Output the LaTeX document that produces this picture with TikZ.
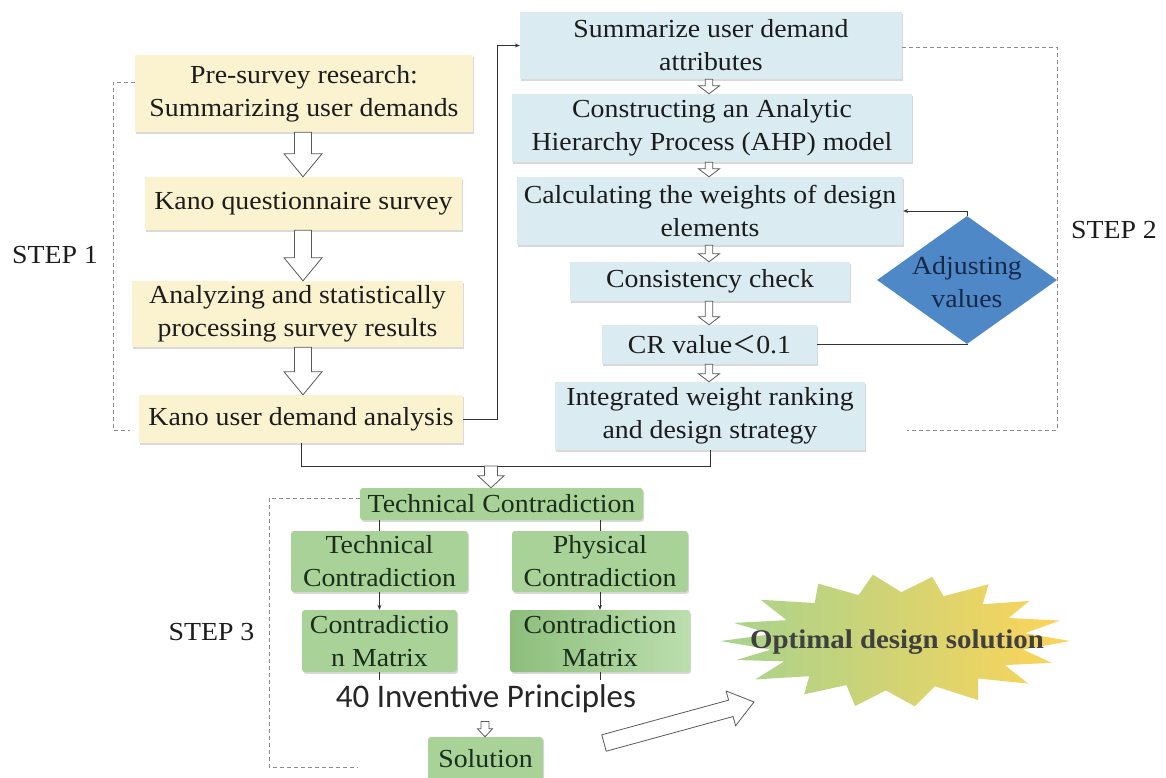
\documentclass[tikz,border=0pt]{standalone}
\usepackage{fontspec}
\setmainfont{Liberation Serif}[FakeStretch=1.07]
\newfontfamily\labelsans{Carlito}
\newfontfamily\cjkfont{Noto Sans CJK SC}
\usetikzlibrary{calc,shapes.geometric,arrows.meta,shadows}

\definecolor{boxyellow}{HTML}{FBF2CF}
\definecolor{boxblue}{HTML}{DAECF2}
\definecolor{boxgreen}{HTML}{A9D298}
\definecolor{greendark}{HTML}{8DBE7C}
\definecolor{greenlight}{HTML}{BCDEAE}
\definecolor{diamondblue}{HTML}{4F88C6}
\definecolor{navytext}{HTML}{17284A}
\definecolor{textdark}{HTML}{1C1C1C}
\definecolor{greentext}{HTML}{1B2E1B}
\definecolor{linegray}{HTML}{333333}
\definecolor{dashgray}{HTML}{8A8A8A}
\definecolor{burstgreen}{HTML}{A6D38F}
\definecolor{burstmid}{HTML}{DCD97C}
\definecolor{burstyellow}{HTML}{FFD457}

\tikzset{
  base/.style={inner sep=0pt, align=center, text=textdark,
    font=\fontsize{26}{33}\selectfont},
  softshadow/.style={drop shadow={shadow xshift=1.2pt, shadow yshift=-1.8pt,
    opacity=0.25, fill=black!60}},
  ybox/.style={base, fill=boxyellow, softshadow},
  bbox/.style={base, fill=boxblue, softshadow},
  gbox/.style={base, fill=boxgreen, rounded corners=3pt, text=greentext, softshadow},
  conn/.style={draw=linegray, line width=0.9pt},
  tip/.style={-{Stealth[length=5pt,width=4pt]}},
  bracket/.style={draw=dashgray, line width=1pt, dash pattern=on 4pt off 3pt},
  harrow/.style={draw=black!65, fill=white, line width=0.8pt, line join=miter},
  steplabel/.style={base}
}

% hollow block arrow: start, end, shaft half width, head half width, head length
\newcommand{\hollowarrow}[5]{%
  \coordinate (hbase) at ($(#2)!#5!(#1)$);
  \draw[harrow] ($(#1)!#3!90:(#2)$) -- ($(hbase)!#3!90:(#2)$)
    -- ($(hbase)!#4!90:(#2)$) -- (#2) -- ($(hbase)!#4!-90:(#2)$)
    -- ($(hbase)!#3!-90:(#2)$) -- ($(#1)!#3!-90:(#2)$) -- cycle;
}

\begin{document}
\begin{tikzpicture}[x=1pt,y=-1pt]
\useasboundingbox (0,0) rectangle (1166,777);

% ---------------- step 1: Kano column ----------------
\node[ybox, minimum width=338pt, minimum height=77pt] (p1) at (304,93.5)
  {Pre-survey research:\\Summarizing user demands};
\node[ybox, minimum width=317pt, minimum height=53pt] (p2) at (303.5,203.5)
  {Kano questionnaire survey};
\node[ybox, minimum width=331pt, minimum height=66pt] (p3) at (297.5,314)
  {Analyzing and statistically\\processing survey results};
\node[ybox, minimum width=324pt, minimum height=48pt] (p4) at (301,419)
  {Kano user demand analysis};

\coordinate (a1) at (p1.south -| 303,0);
\coordinate (a1e) at (a1 |- p2.north);
\coordinate (a2) at (p2.south -| 303,0);
\coordinate (a2e) at (a2 |- p3.north);
\coordinate (a3) at (p3.south -| 303,0);
\coordinate (a3e) at (a3 |- p4.north);
\hollowarrow{a1}{a1e}{8.5pt}{19pt}{23pt}
\hollowarrow{a2}{a2e}{8.5pt}{19pt}{23pt}
\hollowarrow{a3}{a3e}{8.5pt}{19pt}{23pt}

\node[steplabel] (s1) at (55,255) {STEP 1};
\coordinate (b1a) at (113,82);
\coordinate (b1b) at (113,430);
\draw[bracket] (p1.west |- b1a) -- (b1a) -- (b1b) -- (130,430);

% ---------------- step 2: AHP column ----------------
\node[bbox, minimum width=382pt, minimum height=67pt] (A) at (711,45.5)
  {Summarize user demand\\attributes};
\node[bbox, minimum width=400pt, minimum height=68pt] (B) at (712,128)
  {Constructing an Analytic\\Hierarchy Process (AHP) model};
\node[bbox, minimum width=386pt, minimum height=68pt] (C) at (710,211)
  {Calculating the weights of design\\elements};
\node[bbox, minimum width=280pt, minimum height=39pt] (D) at (710,281.5)
  {Consistency check};
\node[bbox, minimum width=215pt, minimum height=39pt] (E) at (709.5,344.5)
  {CR value{\cjkfont\fontsize{24}{24}\selectfont ＜}0.1};
\node[bbox, minimum width=310pt, minimum height=68pt] (F) at (710,416)
  {Integrated weight ranking\\and design strategy};

\foreach \u/\v in {A/B,B/C,C/D,D/E,E/F}{
  \coordinate (\u s) at (\u.south -| 709,0);
  \coordinate (\u e) at (\u s |- \v.north);
  \hollowarrow{\u s}{\u e}{3.8pt}{10.5pt}{8pt}
}

\node[diamond, fill=diamondblue, minimum width=180pt, minimum height=128pt,
  inner sep=0pt, aspect=1.4] (adj) at (967,280) {};
\node[base, text=navytext] (adjtxt) at (967,282) {Adjusting\\values};

\draw[conn, tip] (adj.north) |- (C.east);
\draw[conn] (E.east) -| (adj.south);
\draw[conn, tip] (p4.east) -- ++(34,0) |- (A.west);

\node[steplabel] (s2) at (1114,230) {STEP 2};
\coordinate (b2a) at (1057,47);
\coordinate (b2b) at (1057,430);
\draw[bracket] (A.east |- b2a) -- (b2a) -- (b2b) -- (907,430);

% ---------------- merge into step 3 ----------------
\coordinate (jn) at (491,466);
\draw[conn] (p4.south) |- (jn) -| (F.south);

% ---------------- step 3: TRIZ ----------------
\node[gbox, minimum width=283pt, minimum height=32pt] (tc) at (501.5,504)
  {Technical Contradiction};
\coordinate (jne) at (jn |- tc.north);
\hollowarrow{jn}{jne}{6.5pt}{13pt}{12pt}

\node[gbox, minimum width=177pt, minimum height=61pt] (tcl) at (379.5,561.5)
  {Technical\\Contradiction};
\node[gbox, minimum width=176pt, minimum height=61pt] (pcr) at (600,561.5)
  {Physical\\Contradiction};
\node[gbox, minimum width=155pt, minimum height=62pt] (cm1) at (379.5,641)
  {Contradictio\\n Matrix};
\node[gbox, left color=greendark, right color=greenlight,
  minimum width=180pt, minimum height=62pt] (cm2) at (600,641)
  {Contradiction\\Matrix};

\draw[conn, line width=0.7pt] (tc.south -| tcl.north) -- (tcl.north);
\draw[conn, line width=0.7pt] (tc.south -| pcr.north) -- (pcr.north);
\draw[conn, line width=0.7pt, tip] (tcl.south) -- (cm1.north);
\draw[conn, line width=0.7pt, tip] (pcr.south) -- (cm2.north);

\node[inner sep=0pt, anchor=base, text=black!85,
  font=\labelsans\fontsize{33}{38}\selectfont] (ip) at (486,707)
  {40 Inventive Principles};
\draw[conn, line width=0.7pt] (cm1.south) -- (cm1.south |- 0,680);
\draw[conn, line width=0.7pt] (cm2.south) -- (cm2.south |- 0,680);

\node[gbox, minimum width=115pt, minimum height=44pt] (sol) at (485.5,759)
  {Solution};
\coordinate (ipb) at ($(ip.south)+(-1,9)$);
\coordinate (ipe) at (ipb |- sol.north);
\hollowarrow{ipb}{ipe}{4pt}{7.5pt}{8pt}

\node[steplabel] (s3) at (211.5,632) {STEP 3};
\coordinate (b3a) at (269,498);
\coordinate (b3b) at (269,767);
\draw[bracket] (tc.west |- b3a) -- (b3a) -- (b3b) -- (358,767);

% ---------------- outcome ----------------
\shade[left color=burstgreen, middle color=burstmid, right color=burstyellow]
  (1070,641)
  \foreach \a/\r in {10/.74,20/.95,30/.72,40/.99,50/.73,62/1.0,72/.71,84/.98,
    95/.74,104/1.0,114/.72,124/.96,134/.73,145/1.0,155/.72,163/.97,170/.74,
    180/1.02,188/.73,196/.98,206/.71,218/1.0,230/.74,242/.97,252/.72,262/1.0,
    272/.73,282/.98,292/.72,302/1.0,312/.74,322/.97,332/.73,342/.99,351/.75}
  { -- ({897+\r*173*cos(\a)},{641+\r*67*sin(\a)}) } -- cycle;
\node[inner sep=0pt, text=black!75, font=\fontsize{27}{30}\selectfont\bfseries]
  (opt) at (897,642) {Optimal design solution};

\coordinate (bt) at (604,743);
\coordinate (bh) at (754,702);
\hollowarrow{bt}{bh}{8.5pt}{18pt}{24pt}

\end{tikzpicture}
\end{document}
